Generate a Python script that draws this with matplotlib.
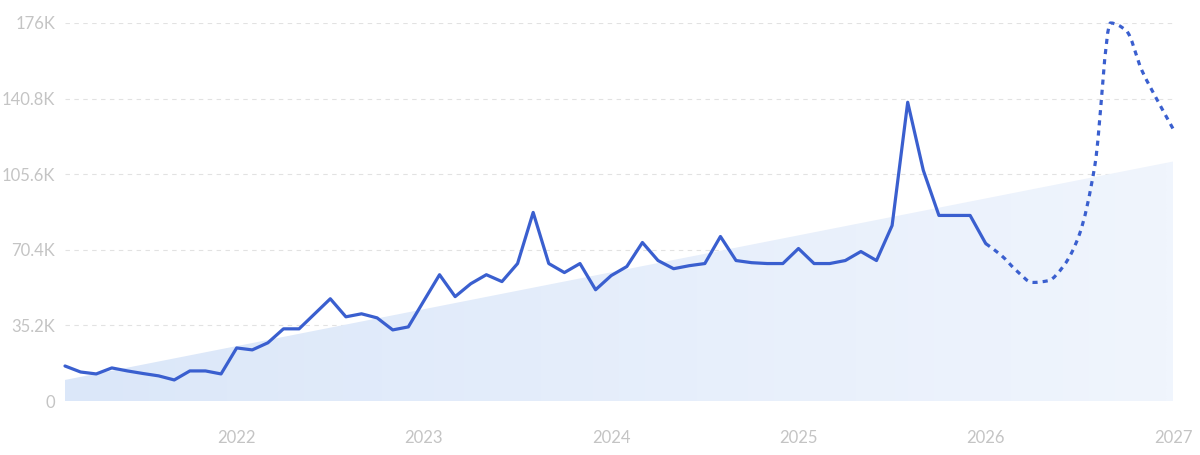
import numpy as np
import matplotlib
matplotlib.use("Agg")
import matplotlib.pyplot as plt
from matplotlib.path import Path
from matplotlib.patches import PathPatch
from matplotlib.colors import LinearSegmentedColormap

# ---- data (values in thousands) ----
start_year, start_month = 2021, 2  # first observed month: Feb 2021
observed = [16.3, 13.5, 12.6, 15.4, 14.0, 12.8, 11.7, 9.8, 14.0, 14.0, 12.6,   # Feb21-Dec21
            24.7, 23.8, 27.1, 33.6, 33.6, 40.6, 47.6, 39.2, 40.6, 38.7, 33.1, 34.5,  # 2022
            46.7, 58.8, 48.6, 54.6, 58.8, 55.6, 64.0, 87.8, 64.0, 59.8, 64.0, 51.8,  # 2023
            58.4, 62.6, 73.8, 65.4, 61.6, 63.0, 64.0, 76.6, 65.4, 64.4, 64.0, 64.0,  # 2024
            71.0, 64.0, 64.0, 65.4, 69.6, 65.4, 81.7, 139.1, 107.4, 86.4, 86.4, 86.4,  # 2025
            73.3]  # Jan 2026
forecast = [73.3, 67.8, 60.5, 55.2, 56.0, 63.0, 77.5, 110.0, 176.0, 172.5, 154.0, 140.0, 126.8]  # Jan26-Jan27
trend_start, trend_end = 9.8, 111.5
y_ticks = [0, 35.2, 70.4, 105.6, 140.8, 176]
y_tick_labels = ["0", "35.2K", "70.4K", "105.6K", "140.8K", "176K"]
x_ticks = [2022, 2023, 2024, 2025, 2026, 2027]
x_tick_labels = ["2022", "2023", "2024", "2025", "2026", "2027"]

LINE = "#3a5fcf"
TEXT = "#c4c4c4"

obs_x = np.array([start_year + (start_month - 1 + i) / 12 for i in range(len(observed))])
fc_x = np.array([2026 + i / 12 for i in range(len(forecast))])
obs_y = np.array(observed)
fc_y = np.array(forecast)
x0, x1 = obs_x[0], fc_x[-1]

fig = plt.figure(figsize=(12, 4.55), dpi=100)
ax = fig.add_axes([65 / 1200, (455 - 401) / 455, (1173 - 65) / 1200, (401 - 23) / 455])
ax.set_xlim(x0, x1)
ax.set_ylim(0, 176)

# grid
for yt in y_ticks:
    ax.axhline(yt, color="#e2e2e2", lw=0.8, dashes=(4, 4), zorder=0)

# trend area with horizontal gradient
poly = ax.fill_between([x0, x1], [0, 0], [trend_start, trend_end], color="none", lw=0, zorder=1)
cmap = LinearSegmentedColormap.from_list("g", ["#dbe7f9", "#f0f5fd"])
grad = np.linspace(0, 1, 256).reshape(1, -1)
im = ax.imshow(grad, cmap=cmap, extent=[x0, x1, 0, trend_end], aspect="auto", zorder=1,
               interpolation="bicubic")
im.set_clip_path(poly.get_paths()[0], transform=ax.transData)
ax.set_xlim(x0, x1)
ax.set_ylim(0, 176)

# observed line
ax.plot(obs_x, obs_y, color=LINE, lw=2.3, solid_joinstyle="round", solid_capstyle="round",
        zorder=3, clip_on=False)

# forecast smooth dashed curve (monotone cubic drawn as Bezier path)
h = np.diff(fc_x)
d = np.diff(fc_y) / h
m = np.zeros_like(fc_y)
m[0], m[-1] = d[0], d[-1]
for i in range(1, len(fc_y) - 1):
    if d[i - 1] * d[i] <= 0:
        m[i] = 0.0
    else:
        m[i] = 2 / (1 / d[i - 1] + 1 / d[i])
verts = [(fc_x[0], fc_y[0])]
codes = [Path.MOVETO]
for i in range(len(fc_x) - 1):
    verts += [(fc_x[i] + h[i] / 3, fc_y[i] + m[i] * h[i] / 3),
              (fc_x[i + 1] - h[i] / 3, fc_y[i + 1] - m[i + 1] * h[i] / 3),
              (fc_x[i + 1], fc_y[i + 1])]
    codes += [Path.CURVE4] * 3
patch = PathPatch(Path(verts, codes), facecolor="none", edgecolor=LINE, lw=2.3,
                  linestyle=(0, (1.6, 1.6)), zorder=3, clip_on=False)
ax.add_patch(patch)

for s in ax.spines.values():
    s.set_visible(False)
ax.set_yticks(y_ticks)
ax.set_yticklabels(y_tick_labels)
ax.set_xticks(x_ticks)
ax.set_xticklabels(x_tick_labels)
ax.tick_params(axis="both", length=0, colors=TEXT, labelsize=12)
ax.tick_params(axis="y", pad=7)
ax.tick_params(axis="x", pad=21)
for lab in ax.get_xticklabels() + ax.get_yticklabels():
    lab.set_fontfamily("Lato")
    lab.set_color(TEXT)

fig.savefig("out.png", dpi=100)
